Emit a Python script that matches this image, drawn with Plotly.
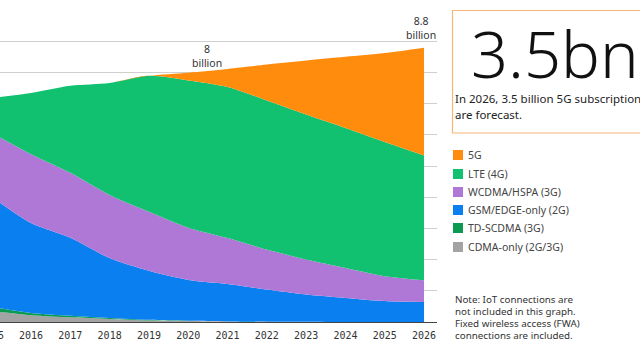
import plotly.graph_objects as go

years = [2015, 2016, 2017, 2018, 2019, 2020, 2021, 2022, 2023, 2024, 2025, 2026]
cdma = [0.35, 0.22, 0.15, 0.10, 0.05, 0.03, 0.02, 0.01, 0.01, 0.0, 0.0, 0.0]
tdscdma = [0.13, 0.07, 0.05, 0.03, 0.02, 0.01, 0.0, 0.0, 0.0, 0.0, 0.0, 0.0]
gsm = [3.53, 2.88, 2.50, 1.92, 1.57, 1.31, 1.20, 1.03, 0.87, 0.77, 0.67, 0.64]
wcdma = [2.05, 2.21, 2.08, 2.02, 1.89, 1.67, 1.47, 1.28, 1.12, 0.96, 0.80, 0.70]
lte = [1.12, 1.96, 2.79, 3.59, 4.36, 4.72, 4.84, 4.78, 4.65, 4.49, 4.30, 4.00]
fiveg = [0.0, 0.0, 0.0, 0.0, 0.0, 0.25, 0.58, 1.15, 1.73, 2.28, 2.85, 3.45]

series_names = ["CDMA-only (2G/3G)", "TD-SCDMA (3G)", "GSM/EDGE-only (2G)",
                "WCDMA/HSPA (3G)", "LTE (4G)", "5G"]
series_vals = [cdma, tdscdma, gsm, wcdma, lte, fiveg]
colors = ["#a3a3a3", "#0b9a52", "#0a80f0", "#b078d6", "#12c170", "#ff8c0c"]

x_range = [2015.21, 2026.33]
y_range = [0, 10]

big_text = "3.5bn"
sub_lines = ["In 2026, 3.5 billion 5G subscriptions", "are forecast."]
note_lines = ["Note: IoT connections are", "not included in this graph.",
              "Fixed wireless access (FWA)", "connections are included."]
callouts = [(2020.48, 8.52, "8<br>billion"), (2025.92, 9.42, "8.8<br>billion")]

W, H = 640, 350
ML, MR, MT, MB = 0, 203, 10, 28
PW, PH = W - ML - MR, H - MT - MB


def xp(px):
    return (px - ML) / PW


def yp(py):
    return (H - MB - py) / PH


fig = go.Figure()
for name, vals, col in zip(series_names, series_vals, colors):
    fig.add_trace(go.Scatter(x=years, y=vals, name=name, mode="lines",
                             stackgroup="one",
                             line=dict(width=0, color=col, shape="spline", smoothing=0.8),
                             fillcolor=col, showlegend=False, hoverinfo="skip"))

annotations = []
shapes = []
for cx, cy, txt in callouts:
    annotations.append(dict(x=cx, y=cy, xref="x", yref="y", text=txt, showarrow=False,
                            font=dict(family="Noto Sans", size=10.5, color="#333"),
                            align="center", xanchor="center", yanchor="middle"))

# partial 2015 tick label at left edge
annotations.append(dict(x=(2015 - x_range[0]) / (x_range[1] - x_range[0]), y=yp(335.5),
                        xref="paper", yref="paper", text="2015", showarrow=False,
                        font=dict(family="DejaVu Sans Mono", size=10, color="#333"),
                        xanchor="center", yanchor="middle"))

# highlight box
shapes.append(dict(type="rect", xref="paper", yref="paper", x0=xp(452.5), x1=xp(700),
                   y0=yp(133), y1=yp(10.5), line=dict(color="#f6b679", width=1.2),
                   fillcolor="rgba(0,0,0,0)", layer="above"))
annotations.append(dict(x=xp(469), y=yp(53), xref="paper", yref="paper", text=big_text,
                        showarrow=False, xanchor="left", yanchor="middle",
                        font=dict(family="Noto Sans", size=65, color="#111", weight=300)))
for i, line in enumerate(sub_lines):
    annotations.append(dict(x=xp(452.5), y=yp(98 + 16 * i), xref="paper", yref="paper",
                            text=line, showarrow=False, xanchor="left", yanchor="middle",
                            font=dict(family="Noto Sans", size=11.5, color="#222")))

# legend (top to bottom)
leg_y = [155, 174, 192, 210, 228, 247]
for (name, col), ly in zip(list(zip(series_names, colors))[::-1], leg_y):
    shapes.append(dict(type="rect", xref="paper", yref="paper", x0=xp(453), x1=xp(463),
                       y0=yp(ly + 5), y1=yp(ly - 5), fillcolor=col, line=dict(width=0)))
    annotations.append(dict(x=xp(466), y=yp(ly), xref="paper", yref="paper", text=name,
                            showarrow=False, xanchor="left", yanchor="middle",
                            font=dict(family="Noto Sans", size=10.5, color="#444")))

for i, line in enumerate(note_lines):
    annotations.append(dict(x=xp(452.5), y=yp(299 + 12 * i), xref="paper", yref="paper",
                            text=line, showarrow=False, xanchor="left", yanchor="middle",
                            font=dict(family="Noto Sans", size=9.8, color="#333")))

fig.update_layout(
    width=W, height=H, margin=dict(l=ML, r=MR, t=MT, b=MB),
    paper_bgcolor="white", plot_bgcolor="white",
    annotations=annotations, shapes=shapes, showlegend=False,
    xaxis=dict(range=x_range, tickmode="array", tickvals=years[1:],
               ticktext=[str(y) for y in years[1:]], showgrid=False, zeroline=False,
               showline=True, linecolor="#444", linewidth=1.3, ticklabelstandoff=4,
               tickfont=dict(family="DejaVu Sans Mono", size=10, color="#333")),
    yaxis=dict(range=y_range, dtick=1, showgrid=True, gridcolor="#cfcfcf", gridwidth=1,
               zeroline=False, showticklabels=False, showline=False),
)

fig.write_html("out.html")
